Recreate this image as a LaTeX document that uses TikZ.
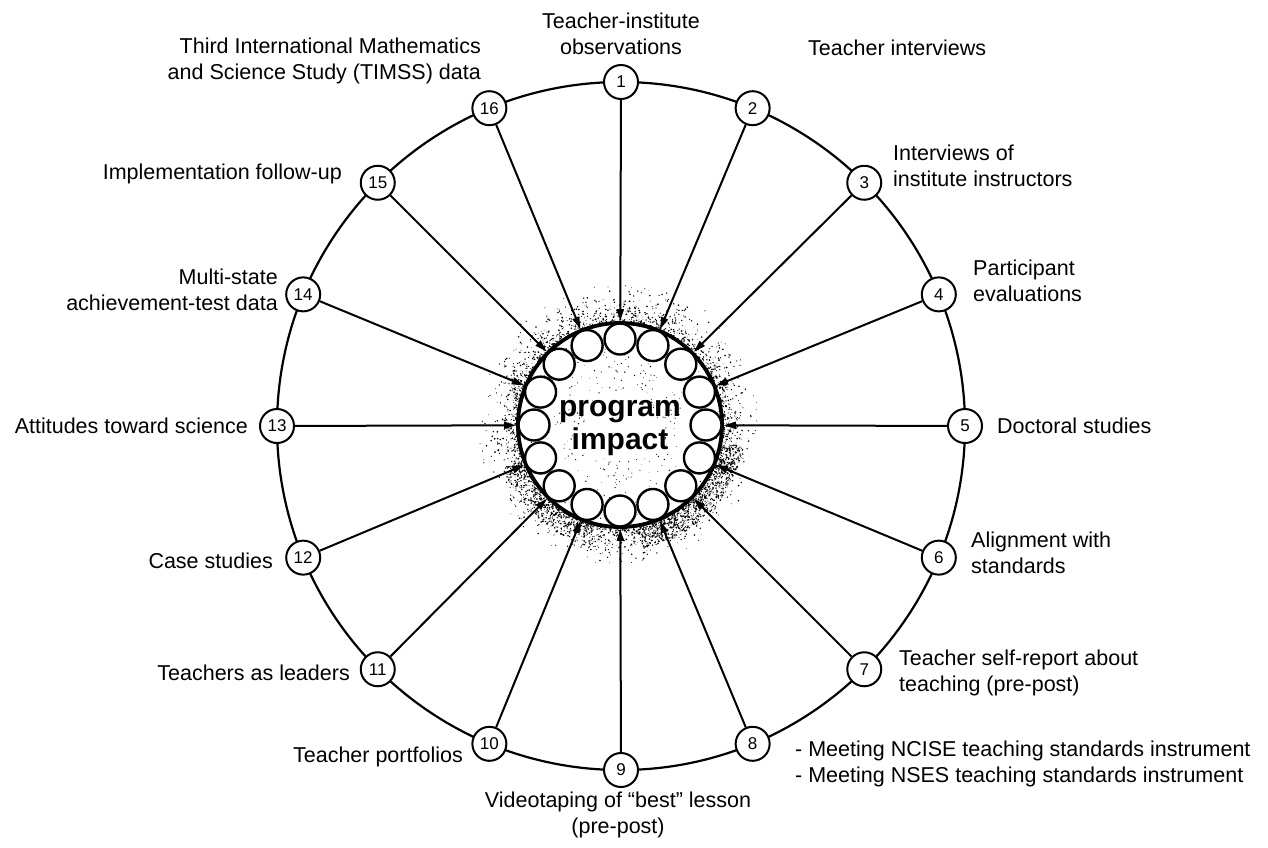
\documentclass[tikz,border=0pt]{standalone}
\usepackage{fontspec}
\setmainfont{Liberation Sans}
\usetikzlibrary{arrows.meta,calc}
\begin{document}
\begin{tikzpicture}[x=1pt,y=-1pt,
  rim/.style={line width=2.2pt},
  src/.style={circle, draw, line width=2pt, fill=white, minimum size=34pt,
    inner sep=0pt, font=\fontsize{17}{17}\selectfont},
  bead/.style={circle, draw, line width=2.4pt, fill=white, minimum size=31pt, inner sep=0pt},
  corering/.style={circle, draw, line width=3.8pt, minimum size=204pt, inner sep=0pt},
  feed/.style={line width=2pt, -{Triangle[length=12pt,width=7pt]}},
  lbl/.style={font=\fontsize{21.5}{26}\selectfont, inner sep=0pt},
]
\useasboundingbox (0,0) rectangle (1268,847);
\coordinate (hub) at (620,425);
\coordinate (O) at (621,426);

% grainy halo around the core ring
\pgfmathsetseed{42}
\foreach \i in {1,...,2200}{
  \pgfmathsetmacro\spA{360*rnd}
  \pgfmathsetmacro\spR{103+40*rnd*rnd}
  \pgfmathsetmacro\spS{0.35+0.6*rnd}
  \fill ($(hub)+(\spA:\spR)$) circle (\spS);
}
\foreach \i in {1,...,700}{
  \pgfmathsetmacro\spA{10+70*rnd}
  \pgfmathsetmacro\spR{103+22*rnd}
  \pgfmathsetmacro\spS{0.35+0.6*rnd}
  \fill ($(hub)+(\spA:\spR)$) circle (\spS);
}
\foreach \i in {1,...,400}{
  \pgfmathsetmacro\spA{100+60*rnd}
  \pgfmathsetmacro\spR{103+22*rnd}
  \pgfmathsetmacro\spS{0.35+0.6*rnd}
  \fill ($(hub)+(\spA:\spR)$) circle (\spS);
}
\foreach \i in {1,...,350}{
  \pgfmathsetmacro\spA{360*rnd}
  \pgfmathsetmacro\spR{35+65*rnd}
  \pgfmathsetmacro\spS{0.3+0.45*rnd}
  \fill ($(hub)+(\spA:\spR)$) circle (\spS);
}

% core ring with its sixteen beads
\node[corering] (core) at (hub) {};
\foreach \k in {0,...,15}{
  \pgfmathsetmacro\spA{-90+\k*22.5}
  \node[bead] (b\k) at ($(hub)+(\spA:86)$) {};
}
\node[font=\bfseries\fontsize{30}{33}\selectfont, align=center, inner sep=0pt] (title) at (620,428) {program\\impact};

% outer ring of sources
\draw[rim] (O) circle (344);
\foreach \k in {1,...,16}{
  \pgfmathsetmacro\spA{-90+(\k-1)*22.5}
  \node[src] (n\k) at ($(O)+(\spA:344)$) {\k};
}
\foreach \k in {1,...,16}{
  \draw[feed] (n\k) -- (core);
}

% source labels
\node[lbl, align=center] (t1) at (621,34) {Teacher-institute\\observations};
\node[lbl, anchor=west] (t2) at (808,48) {Teacher interviews};
\node[lbl, anchor=west, align=left] (t3) at (893,166) {Interviews of\\institute instructors};
\node[lbl, anchor=west, align=left] (t4) at (973,281) {Participant\\evaluations};
\node[lbl, anchor=west] (t5) at (997,426) {Doctoral studies};
\node[lbl, anchor=west, align=left] (t6) at (971,553) {Alignment with\\standards};
\node[lbl, anchor=west, align=left] (t7) at (899,673) {Teacher self-report about\\teaching (pre-post)};
\node[lbl, anchor=west, align=left] (t8) at (795,764) {- Meeting NCISE teaching standards instrument\\- Meeting NSES teaching standards instrument};
\node[lbl, align=center] (t9) at (618,815) {Videotaping of “best” lesson\\(pre-post)};
\node[lbl, anchor=east] (t10) at (463,757) {Teacher portfolios};
\node[lbl, anchor=east] (t11) at (350,673) {Teachers as leaders};
\node[lbl, anchor=east] (t12) at (273,561) {Case studies};
\node[lbl, anchor=east] (t13) at (248,426) {Attitudes toward science};
\node[lbl, anchor=east, align=right] (t14) at (278,290) {Multi-state\\achievement-test data};
\node[lbl, anchor=east] (t15) at (342,174) {Implementation follow-up};
\node[lbl, anchor=east, align=right] (t16) at (481,61) {Third International Mathematics\\and Science Study (TIMSS) data};
\end{tikzpicture}
\end{document}
